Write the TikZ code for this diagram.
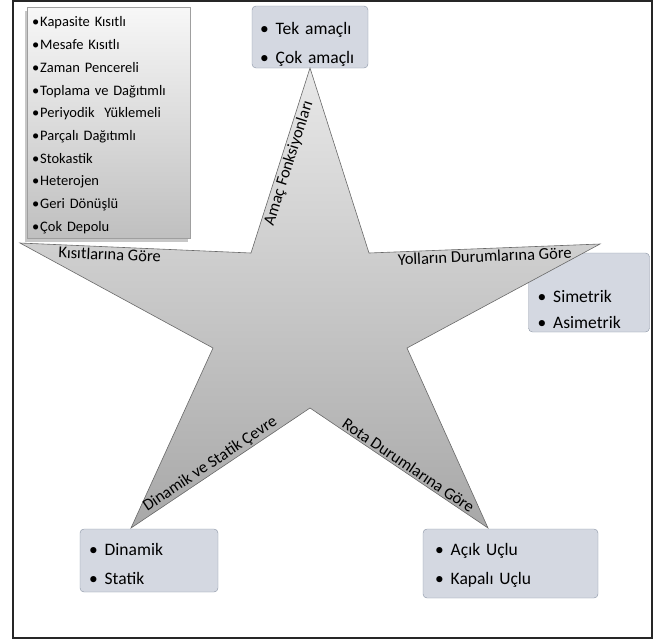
\documentclass[tikz,border=0pt]{standalone}
\usepackage{fontspec}
\setmainfont{Carlito}
\usepackage{tikz}
\usetikzlibrary{shadows, positioning, calc}
\usepackage{xcolor}
\definecolor{boxfill}{RGB}{212, 216, 225}
\definecolor{boxline}{RGB}{138, 148, 164}
\definecolor{starline}{RGB}{105, 105, 105}
\definecolor{startop}{RGB}{232, 232, 232}
\definecolor{starbottom}{RGB}{168, 168, 168}
\newcommand{\itembul}{\textbullet\hspace{7pt}}
\tikzset{
    catbox/.style={draw=boxline, fill=boxfill, rounded corners=4pt, align=left, inner xsep=8pt, inner ysep=0pt, font=\fontsize{17.5}{29}\selectfont},
    toppad/.style={execute at begin node={\rule{0pt}{#1}}},
    listbox/.style={draw=gray!75, top color=gray!6, bottom color=gray!50, align=left, inner xsep=5pt, inner ysep=0pt, font=\fontsize{14.5}{22.7}\selectfont,
        drop shadow={shadow xshift=-2pt, shadow yshift=-4pt, fill=gray!55, opacity=0.8}},
    starshape/.style={draw=starline, line width=0.6pt, top color=startop, bottom color=starbottom},
    edgelabel/.style={sloped, font=\fontsize{16.5}{18}\selectfont, inner sep=1.5pt},
    frame/.style={draw=black!85, line width=1.6pt},
}

\begin{document}
\begin{tikzpicture}[x=1pt, y=-1pt]
                    \useasboundingbox (0,0) rectangle (660,641);
                    
                    % Outer frame
                    \draw[frame] (13,1) rectangle (652,638);
                    
                    % Constraint list
                    \node[listbox, toppad=15.7pt, minimum width=163, minimum height=231, text width=153] (kisitlar) at (108.5,122.5) {%
                        \textbullet\hspace{1pt}Kapasite Kısıtlı\\
                        \textbullet\hspace{1pt}Mesafe Kısıtlı\\
                        \textbullet\hspace{1pt}Zaman Pencereli\\
                        \textbullet\hspace{1pt}Toplama ve Dağıtımlı\\
                        \textbullet\hspace{1pt}Periyodik\ \ Yüklemeli\\
                        \textbullet\hspace{1pt}Parçalı Dağıtımlı\\
                        \textbullet\hspace{1pt}Stokastik\\
                        \textbullet\hspace{1pt}Heterojen\\
                        \textbullet\hspace{1pt}Geri Dönüşlü\\
                        \textbullet\hspace{1pt}Çok Depolu};
                    
                    % Objective box
                    \node[catbox, toppad=26.5pt, minimum width=116, minimum height=62, text width=100] (amaclar) at (310,37) {\itembul Tek amaçlı\\\itembul Çok amaçlı};
                    
                    % Road box
                    \node[catbox, toppad=47pt, minimum width=121, minimum height=79, text width=103, inner xsep=9pt, font=\fontsize{17.5}{26}\selectfont] (yollar) at (589,292.5) {\itembul Simetrik\\\itembul Asimetrik};
                    
                    % Environment box
                    \node[catbox, toppad=18.7pt, minimum width=138, minimum height=63, text width=120, inner xsep=9pt, font=\fontsize{17.5}{28.5}\selectfont] (cevreler) at (149,560.5) {\itembul Dinamik\\\itembul Statik};
                    
                    % Route box
                    \node[catbox, toppad=16.2pt, minimum width=175, minimum height=69, text width=151, inner xsep=12pt, font=\fontsize{17.5}{28.5}\selectfont] (rotalar) at (510.5,563.5) {\itembul Açık Uçlu\\\itembul Kapalı Uçlu};
                    
                    % Star corners
                    \coordinate (t) at (310,68);
                    \coordinate (iur) at (369,253);
                    \coordinate (r) at (600,244);
                    \coordinate (ilr) at (407,348);
                    \coordinate (br) at (488,528);
                    \coordinate (ib) at (310,408);
                    \coordinate (bl) at (131,528);
                    \coordinate (ill) at (213,348);
                    \coordinate (l) at (20,243);
                    \coordinate (iul) at (251,253);
                    
                    % Star
                    \draw[starshape] (t) -- (iur) -- (r) -- (ilr) -- (br) -- (ib) -- (bl) -- (ill) -- (l) -- (iul) -- cycle;
                    
                    % Labels along the star
                    \path (iul) -- node[edgelabel, below, pos=0.5] (amac) {Amaç Fonksiyonları} (t);
                    \path (l) -- node[edgelabel, below, pos=0.39] (kisit) {Kısıtlarına Göre} (iul);
                    \path (iur) -- node[edgelabel, below, pos=0.5] (yol) {Yolların Durumlarına Göre} (r);
                    \path (bl) -- node[edgelabel, above, pos=0.47] (cevre) {Dinamik ve Statik Çevre} (ib);
                    \path (ib) -- node[edgelabel, above, pos=0.53] (rota) {Rota Durumlarına Göre} (br);
                \end{tikzpicture}
\end{document}
